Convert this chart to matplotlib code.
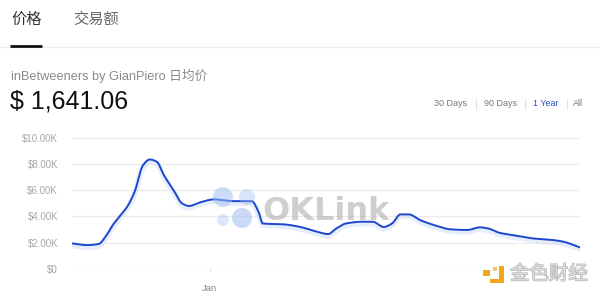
import numpy as np
import pandas as pd
import matplotlib
matplotlib.use("Agg")
import matplotlib.pyplot as plt
import matplotlib.dates as mdates
from matplotlib.patches import Circle, Rectangle
import matplotlib.patheffects as pe

plt.rcParams['font.family'] = ['Liberation Sans', 'Noto Sans CJK SC', 'DejaVu Sans']

# ---- data -------------------------------------------------------------
start_date = "2022-09-24"
day_offset = [0, 11, 19, 25, 29, 34, 40, 45, 51, 56, 61, 66, 73, 79, 84, 92,
              102, 116, 129, 134, 137, 152, 164, 176, 184, 190, 197, 209, 216,
              224, 230, 236, 242, 250, 260, 272, 284, 293, 299, 307, 320, 331,
              346, 353, 365]
price_usd = [1950, 1820, 1900, 2600, 3300, 3980, 4800, 5880, 7900, 8340, 8160,
             7150, 6000, 5000, 4800, 5070, 5300, 5170, 5170, 4360, 3470, 3400,
             3200, 2840, 2660, 3090, 3470, 3600, 3600, 3200, 3470, 4160, 4160,
             3730, 3350, 3020, 2970, 3170, 3090, 2760, 2530, 2330, 2200, 2080,
             1641.06]
y_ticks = [0, 2000, 4000, 6000, 8000, 10000]
y_tick_labels = ["$0", "$2.00K", "$4.00K", "$6.00K", "$8.00K", "$10.00K"]
x_tick_dates = ["2023-01-01"]
x_tick_labels = ["Jan"]
range_options = ["30 Days", "90 Days", "1 Year", "All"]
active_range = "1 Year"
tabs = ["价格", "交易额"]
subtitle = "inBetweeners by GianPiero 日均价"
headline = "$ 1,641.06"


def pchip(x, y, xs):
    """Monotone cubic interpolation for a smooth price curve."""
    x = np.asarray(x, float)
    y = np.asarray(y, float)
    h = np.diff(x)
    d = np.diff(y) / h
    m = np.zeros_like(y)
    for k in range(1, len(y) - 1):
        if d[k - 1] * d[k] > 0:
            w1 = 2 * h[k] + h[k - 1]
            w2 = h[k] + 2 * h[k - 1]
            m[k] = (w1 + w2) / (w1 / d[k - 1] + w2 / d[k])
    m[0] = d[0]
    m[-1] = d[-1]
    idx = np.clip(np.searchsorted(x, xs) - 1, 0, len(h) - 1)
    t = (xs - x[idx]) / h[idx]
    h00 = 2 * t**3 - 3 * t**2 + 1
    h10 = t**3 - 2 * t**2 + t
    h01 = -2 * t**3 + 3 * t**2
    h11 = t**3 - t**2
    return (h00 * y[idx] + h10 * h[idx] * m[idx]
            + h01 * y[idx + 1] + h11 * h[idx] * m[idx + 1])


t0 = pd.Timestamp(start_date)
x_num = mdates.date2num(t0) + np.array(day_offset, float)
xs = np.linspace(x_num[0], x_num[-1], 1500)
ys = pchip(x_num, price_usd, xs)

# ---- figure -----------------------------------------------------------
W, H = 600, 298
fig = plt.figure(figsize=(W / 100, H / 100), dpi=100)
fig.patch.set_facecolor("white")


def fx(px):
    return px / W


def fy(py):
    return 1 - py / H


# ---- chart axes -------------------------------------------------------
ax = fig.add_axes([fx(72), fy(269), fx(580) - fx(72), fy(137.7) - fy(269)])
ax.set_facecolor("none")
ax.set_xlim(x_num[0], x_num[-1])
ax.set_ylim(0, 10000)
for s in ax.spines.values():
    s.set_visible(False)
ax.set_yticks(y_ticks)
ax.set_yticklabels(y_tick_labels)
ax.tick_params(axis="y", length=0, pad=10, labelsize=7, labelcolor="#a8a8a8")
ax.set_xticks(mdates.date2num(pd.to_datetime(x_tick_dates)))
ax.set_xticklabels(x_tick_labels)
ax.tick_params(axis="x", length=3, width=0.6, color="#dddddd", direction="inout",
               pad=9, labelsize=6.8, labelcolor="#888888")
ax.grid(axis="y", color="#ececec", lw=0.9)
ax.set_axisbelow(True)

# soft glow under the line
ax.plot(xs, ys - 150, color="#c4d5f7", lw=4, alpha=0.4, solid_capstyle="round")
ax.plot(xs, ys, color="#1d47cf", lw=1.4, solid_capstyle="round", zorder=3)

# ---- page overlay in pixel coordinates ---------------------------------
ov = fig.add_axes([0, 0, 1, 1], zorder=5)
ov.set_xlim(0, W)
ov.set_ylim(H, 0)
ov.axis("off")
ov.patch.set_alpha(0)

# header tabs
ov.text(11, 20, tabs[0], fontsize=11, color="#333333", va="center", ha="left")
ov.text(73, 20, tabs[1], fontsize=11, color="#666666", va="center", ha="left")
ov.plot([0, W], [47, 47], color="#eeeeee", lw=1)
ov.plot([10, 42], [46, 46], color="#111111", lw=2, solid_capstyle="butt")

ov.text(11, 76, subtitle, fontsize=9.2, color="#8a8a8a", va="center", ha="left")
ov.text(10, 102, headline, fontsize=18, color="#111111", va="center",
        ha="left", fontweight="medium")

# range selector
positions = [434, 484, 533, 573]
for px, name in zip(positions, range_options):
    ov.text(px, 104, name, fontsize=6.5, va="center", ha="left",
            color="#2c4fc8" if name == active_range else "#777777")
for px in [476, 525, 567]:
    ov.plot([px, px], [99, 109], color="#e2e2e2", lw=0.8)

# OKLink watermark
for cx, cy, r, a in [(223, 197, 10, 0.5), (247, 197, 8, 0.4),
                     (242, 218, 10, 0.55), (223, 220, 6, 0.35)]:
    ov.add_patch(Circle((cx, cy), r, color="#9fbdf0", alpha=a, lw=0))
ov.text(262, 219.5, "OKLink", fontsize=23, fontweight="bold", family=["DejaVu Sans"],
        color="#a0a0a0", alpha=0.5, va="baseline", ha="left")

# 金色财经 badge
ov.add_patch(Rectangle((478, 262), 122, 30, color="white", alpha=0.7, lw=0))
ov.add_patch(Rectangle((483, 270), 7, 6, color="#f0a818", lw=0))
ov.add_patch(Rectangle((499, 266), 5, 17, color="#f0a818", lw=0))
ov.add_patch(Rectangle((490, 279), 14, 4, color="#f0a818", lw=0))
ov.add_patch(Rectangle((493, 267), 3.5, 4, color="#f7c860", lw=0))
ov.text(510, 274, "金色财经", fontsize=14, color="#dcdcdc",
        va="center", ha="left", family=["Noto Sans CJK SC"],
        path_effects=[pe.withStroke(linewidth=0.9, foreground="#b4b4b4")])

fig.savefig("out.png", dpi=100, facecolor="white")
